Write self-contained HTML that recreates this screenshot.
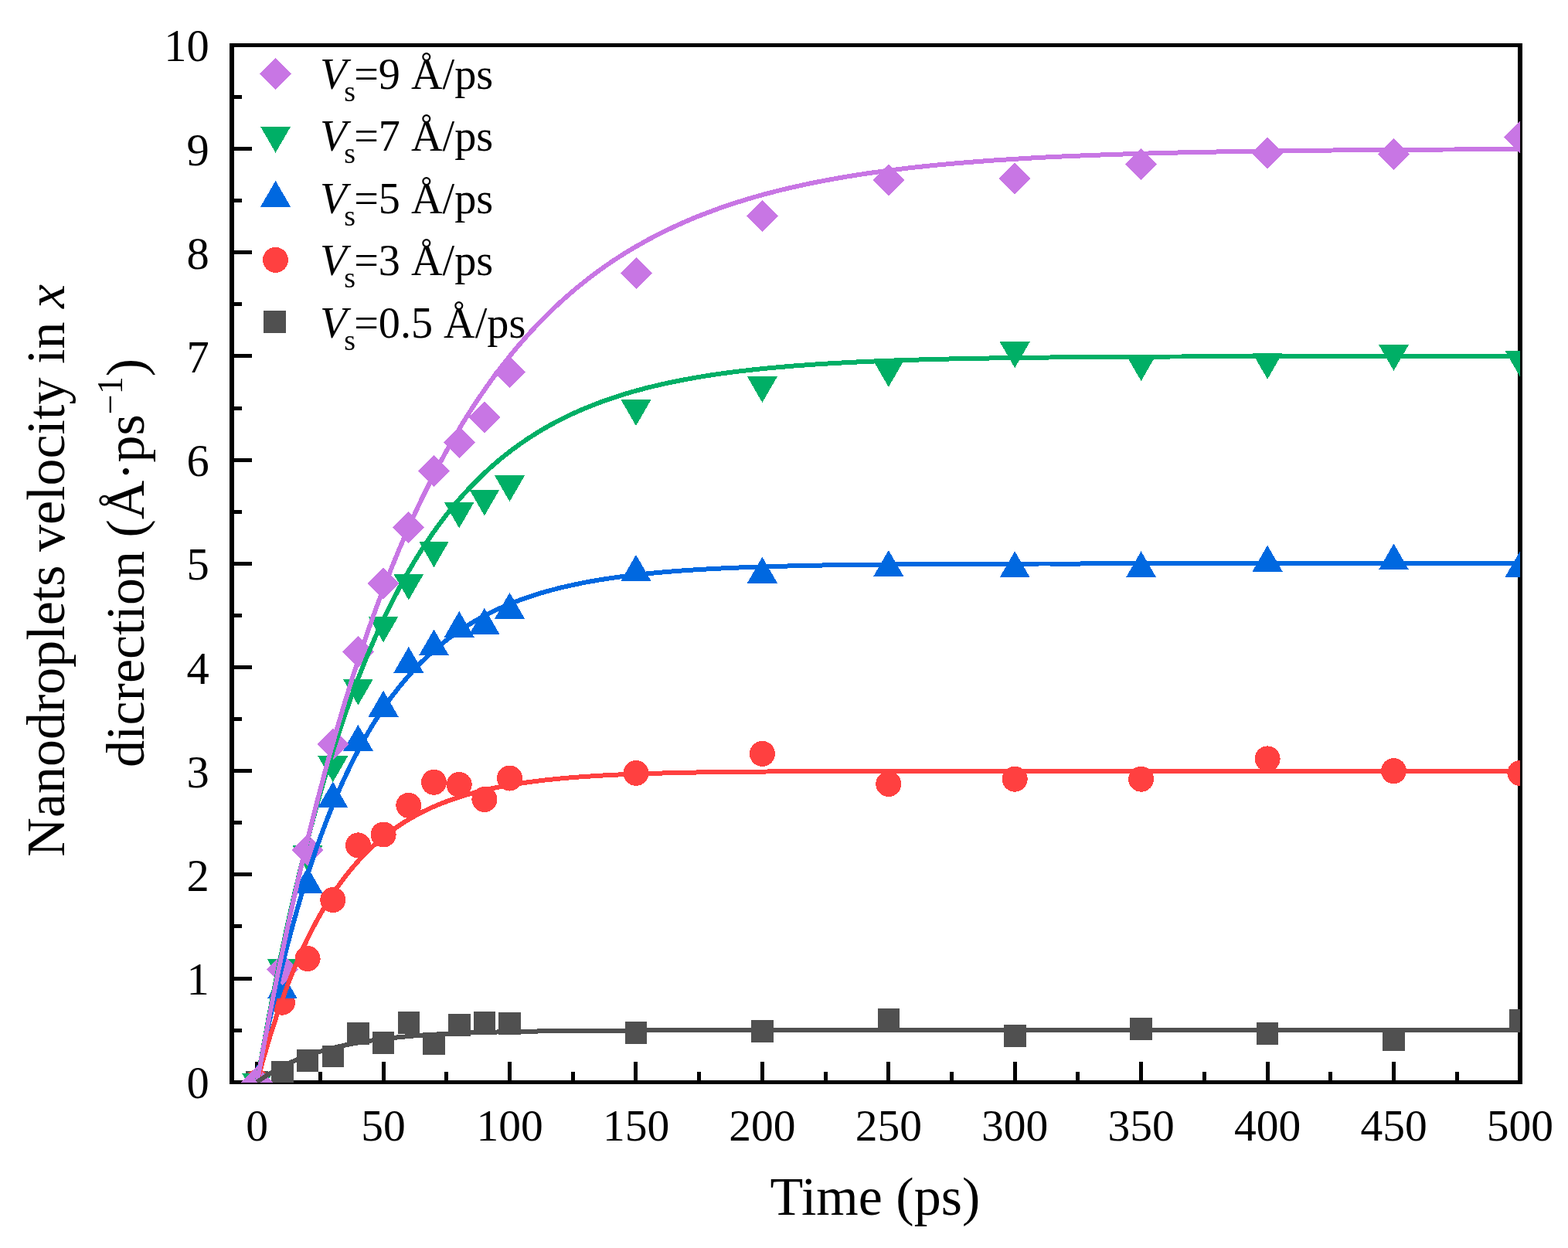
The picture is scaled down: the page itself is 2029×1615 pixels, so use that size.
<!DOCTYPE html><html><head><meta charset="utf-8"><title>Nanodroplets velocity</title>
<style>html,body{margin:0;padding:0;background:#fff;overflow:hidden;}svg{display:block;}text{font-family:"Liberation Serif","Times New Roman",serif;fill:#000;}</style></head><body>
<svg width="2029" height="1615" viewBox="0 0 2029 1615">
<rect width="2029" height="1615" fill="#fff"/>
<defs><clipPath id="pa"><rect x="300" y="58.5" width="1667" height="1342.5"/></clipPath></defs>
<g fill="#000" shape-rendering="crispEdges"><rect x="330" y="1374" width="5" height="29"/><rect x="494" y="1374" width="5" height="29"/><rect x="657" y="1374" width="5" height="29"/><rect x="820" y="1374" width="5" height="29"/><rect x="984" y="1374" width="5" height="29"/><rect x="1147" y="1374" width="5" height="29"/><rect x="1311" y="1374" width="5" height="29"/><rect x="1474" y="1374" width="5" height="29"/><rect x="1638" y="1374" width="5" height="29"/><rect x="1801" y="1374" width="5" height="29"/><rect x="1964" y="1374" width="5" height="29"/><rect x="412" y="1387" width="5" height="16"/><rect x="575" y="1387" width="5" height="16"/><rect x="739" y="1387" width="5" height="16"/><rect x="902" y="1387" width="5" height="16"/><rect x="1066" y="1387" width="5" height="16"/><rect x="1229" y="1387" width="5" height="16"/><rect x="1392" y="1387" width="5" height="16"/><rect x="1556" y="1387" width="5" height="16"/><rect x="1719" y="1387" width="5" height="16"/><rect x="1883" y="1387" width="5" height="16"/><rect x="297" y="1398" width="29" height="5"/><rect x="297" y="1264" width="29" height="5"/><rect x="297" y="1129" width="29" height="5"/><rect x="297" y="995" width="29" height="5"/><rect x="297" y="861" width="29" height="5"/><rect x="297" y="727" width="29" height="5"/><rect x="297" y="593" width="29" height="5"/><rect x="297" y="458" width="29" height="5"/><rect x="297" y="324" width="29" height="5"/><rect x="297" y="190" width="29" height="5"/><rect x="297" y="56" width="29" height="5"/><rect x="297" y="1331" width="16" height="5"/><rect x="297" y="1196" width="16" height="5"/><rect x="297" y="1062" width="16" height="5"/><rect x="297" y="928" width="16" height="5"/><rect x="297" y="794" width="16" height="5"/><rect x="297" y="660" width="16" height="5"/><rect x="297" y="526" width="16" height="5"/><rect x="297" y="391" width="16" height="5"/><rect x="297" y="257" width="16" height="5"/><rect x="297" y="123" width="16" height="5"/></g>
<g fill="#000" shape-rendering="crispEdges"><rect x="297" y="56" width="1673" height="5"/><rect x="297" y="1398" width="1673" height="5"/><rect x="297" y="56" width="6" height="1347"/><rect x="1964" y="56" width="6" height="1347"/></g>
<g clip-path="url(#pa)" shape-rendering="crispEdges">
<rect x="318.4" y="1386" width="28.6" height="28.6" fill="#505050"/>
<rect x="351.1" y="1372.6" width="28.6" height="28.6" fill="#505050"/>
<rect x="383.8" y="1358.1" width="28.6" height="28.6" fill="#505050"/>
<rect x="416.5" y="1352.7" width="28.6" height="28.6" fill="#505050"/>
<rect x="449.1" y="1323.2" width="28.6" height="28.6" fill="#505050"/>
<rect x="481.8" y="1335.4" width="28.6" height="28.6" fill="#505050"/>
<rect x="514.5" y="1309.2" width="28.6" height="28.6" fill="#505050"/>
<rect x="547.2" y="1335.9" width="28.6" height="28.6" fill="#505050"/>
<rect x="579.9" y="1312.3" width="28.6" height="28.6" fill="#505050"/>
<rect x="612.6" y="1309.4" width="28.6" height="28.6" fill="#505050"/>
<rect x="645.2" y="1310.4" width="28.6" height="28.6" fill="#505050"/>
<rect x="808.7" y="1322" width="28.6" height="28.6" fill="#505050"/>
<rect x="972.1" y="1320" width="28.6" height="28.6" fill="#505050"/>
<rect x="1135.5" y="1304.7" width="28.6" height="28.6" fill="#505050"/>
<rect x="1298.9" y="1326.1" width="28.6" height="28.6" fill="#505050"/>
<rect x="1462.3" y="1317.2" width="28.6" height="28.6" fill="#505050"/>
<rect x="1625.8" y="1323.1" width="28.6" height="28.6" fill="#505050"/>
<rect x="1789.2" y="1331.2" width="28.6" height="28.6" fill="#505050"/>
<rect x="1952.6" y="1305.9" width="28.6" height="28.6" fill="#505050"/>
<circle cx="332.7" cy="1400.3" r="16.5" fill="#FF4040"/>
<circle cx="365.4" cy="1297.2" r="16.5" fill="#FF4040"/>
<circle cx="398.1" cy="1240.6" r="16.5" fill="#FF4040"/>
<circle cx="430.8" cy="1164.5" r="16.5" fill="#FF4040"/>
<circle cx="463.4" cy="1093.9" r="16.5" fill="#FF4040"/>
<circle cx="496.1" cy="1080" r="16.5" fill="#FF4040"/>
<circle cx="528.8" cy="1042.3" r="16.5" fill="#FF4040"/>
<circle cx="561.5" cy="1012.3" r="16.5" fill="#FF4040"/>
<circle cx="594.2" cy="1015.4" r="16.5" fill="#FF4040"/>
<circle cx="626.9" cy="1034.5" r="16.5" fill="#FF4040"/>
<circle cx="659.5" cy="1007" r="16.5" fill="#FF4040"/>
<circle cx="823" cy="1000.4" r="16.5" fill="#FF4040"/>
<circle cx="986.4" cy="975.4" r="16.5" fill="#FF4040"/>
<circle cx="1149.8" cy="1014.5" r="16.5" fill="#FF4040"/>
<circle cx="1313.2" cy="1008.2" r="16.5" fill="#FF4040"/>
<circle cx="1476.6" cy="1008.2" r="16.5" fill="#FF4040"/>
<circle cx="1640.1" cy="981.9" r="16.5" fill="#FF4040"/>
<circle cx="1803.5" cy="997.7" r="16.5" fill="#FF4040"/>
<circle cx="1966.9" cy="1000.4" r="16.5" fill="#FF4040"/>
<path d="M332.7 1377.8L352.2 1411.6L313.2 1411.6Z" fill="#0068E0"/>
<path d="M365.4 1258.6L384.9 1292.4L345.9 1292.4Z" fill="#0068E0"/>
<path d="M398.1 1122.1L417.6 1155.9L378.6 1155.9Z" fill="#0068E0"/>
<path d="M430.8 1011.4L450.3 1045.2L411.3 1045.2Z" fill="#0068E0"/>
<path d="M463.4 937.9L482.9 971.7L443.9 971.7Z" fill="#0068E0"/>
<path d="M496.1 893.7L515.6 927.5L476.6 927.5Z" fill="#0068E0"/>
<path d="M528.8 836.9L548.3 870.7L509.3 870.7Z" fill="#0068E0"/>
<path d="M561.5 814.5L581 848.3L542 848.3Z" fill="#0068E0"/>
<path d="M594.2 790.9L613.7 824.7L574.7 824.7Z" fill="#0068E0"/>
<path d="M626.9 786.7L646.4 820.5L607.4 820.5Z" fill="#0068E0"/>
<path d="M659.5 766.8L679 800.6L640 800.6Z" fill="#0068E0"/>
<path d="M823 717.9L842.5 751.7L803.5 751.7Z" fill="#0068E0"/>
<path d="M986.4 720.7L1005.9 754.5L966.9 754.5Z" fill="#0068E0"/>
<path d="M1149.8 712L1169.3 745.8L1130.3 745.8Z" fill="#0068E0"/>
<path d="M1313.2 713.3L1332.7 747.1L1293.7 747.1Z" fill="#0068E0"/>
<path d="M1476.6 713.3L1496.1 747.1L1457.1 747.1Z" fill="#0068E0"/>
<path d="M1640.1 705.7L1659.6 739.5L1620.6 739.5Z" fill="#0068E0"/>
<path d="M1803.5 703.5L1823 737.3L1784 737.3Z" fill="#0068E0"/>
<path d="M1966.9 713.3L1986.4 747.1L1947.4 747.1Z" fill="#0068E0"/>
<path d="M313.2 1389L352.2 1389L332.7 1422.8Z" fill="#00AF66"/>
<path d="M345.9 1241.4L384.9 1241.4L365.4 1275.2Z" fill="#00AF66"/>
<path d="M378.6 1094.3L417.6 1094.3L398.1 1128.1Z" fill="#00AF66"/>
<path d="M411.3 978.4L450.3 978.4L430.8 1012.2Z" fill="#00AF66"/>
<path d="M443.9 878.8L482.9 878.8L463.4 912.6Z" fill="#00AF66"/>
<path d="M476.6 797.5L515.6 797.5L496.1 831.3Z" fill="#00AF66"/>
<path d="M509.3 742.7L548.3 742.7L528.8 776.5Z" fill="#00AF66"/>
<path d="M542 700.5L581 700.5L561.5 734.3Z" fill="#00AF66"/>
<path d="M574.7 649.7L613.7 649.7L594.2 683.5Z" fill="#00AF66"/>
<path d="M607.4 633.6L646.4 633.6L626.9 667.4Z" fill="#00AF66"/>
<path d="M640 615.4L679 615.4L659.5 649.2Z" fill="#00AF66"/>
<path d="M803.5 517.3L842.5 517.3L823 551.1Z" fill="#00AF66"/>
<path d="M966.9 487.2L1005.9 487.2L986.4 521Z" fill="#00AF66"/>
<path d="M1130.3 467.1L1169.3 467.1L1149.8 500.9Z" fill="#00AF66"/>
<path d="M1293.7 442.4L1332.7 442.4L1313.2 476.2Z" fill="#00AF66"/>
<path d="M1457.1 459.3L1496.1 459.3L1476.6 493.1Z" fill="#00AF66"/>
<path d="M1620.6 456.9L1659.6 456.9L1640.1 490.7Z" fill="#00AF66"/>
<path d="M1784 446.1L1823 446.1L1803.5 479.9Z" fill="#00AF66"/>
<path d="M1947.4 453.7L1986.4 453.7L1966.9 487.5Z" fill="#00AF66"/>
<path d="M332.7 1379.8L353.2 1400.3L332.7 1420.8L312.2 1400.3Z" fill="#C876E4"/>
<path d="M365.4 1234.1L385.9 1254.6L365.4 1275.1L344.9 1254.6Z" fill="#C876E4"/>
<path d="M398.1 1079.9L418.6 1100.4L398.1 1120.9L377.6 1100.4Z" fill="#C876E4"/>
<path d="M430.8 942.3L451.3 962.8L430.8 983.3L410.3 962.8Z" fill="#C876E4"/>
<path d="M463.4 823.4L483.9 843.9L463.4 864.4L442.9 843.9Z" fill="#C876E4"/>
<path d="M496.1 734.7L516.6 755.2L496.1 775.7L475.6 755.2Z" fill="#C876E4"/>
<path d="M528.8 662.2L549.3 682.7L528.8 703.2L508.3 682.7Z" fill="#C876E4"/>
<path d="M561.5 589.2L582 609.7L561.5 630.2L541 609.7Z" fill="#C876E4"/>
<path d="M594.2 552.1L614.7 572.6L594.2 593.1L573.7 572.6Z" fill="#C876E4"/>
<path d="M626.9 519.8L647.4 540.3L626.9 560.8L606.4 540.3Z" fill="#C876E4"/>
<path d="M659.5 460.8L680 481.3L659.5 501.8L639 481.3Z" fill="#C876E4"/>
<path d="M823 333L843.5 353.5L823 374L802.5 353.5Z" fill="#C876E4"/>
<path d="M986.4 258.8L1006.9 279.3L986.4 299.8L965.9 279.3Z" fill="#C876E4"/>
<path d="M1149.8 212.3L1170.3 232.8L1149.8 253.3L1129.3 232.8Z" fill="#C876E4"/>
<path d="M1313.2 210.5L1333.7 231L1313.2 251.5L1292.7 231Z" fill="#C876E4"/>
<path d="M1476.6 192L1497.1 212.5L1476.6 233L1456.1 212.5Z" fill="#C876E4"/>
<path d="M1640.1 177.9L1660.6 198.4L1640.1 218.9L1619.6 198.4Z" fill="#C876E4"/>
<path d="M1803.5 178.8L1824 199.3L1803.5 219.8L1783 199.3Z" fill="#C876E4"/>
<path d="M1966.9 157L1987.4 177.5L1966.9 198L1946.4 177.5Z" fill="#C876E4"/>
<path d="M332.7 1400.3 L336.0 1381.4 L339.2 1363.0 L342.5 1344.8 L345.8 1327.1 L349.0 1309.7 L352.3 1292.7 L355.6 1276.0 L358.8 1259.6 L362.1 1243.5 L365.4 1227.8 L368.7 1212.4 L371.9 1197.3 L375.2 1182.6 L378.5 1168.1 L381.7 1153.9 L385.0 1140.0 L388.3 1126.3 L391.5 1113.0 L394.8 1099.9 L398.1 1087.0 L401.3 1074.5 L404.6 1062.1 L407.9 1050.1 L411.1 1038.2 L414.4 1026.6 L417.7 1015.3 L420.9 1004.2 L424.2 993.2 L427.5 982.6 L430.8 972.1 L434.0 961.8 L437.3 951.8 L440.6 941.9 L443.8 932.2 L447.1 922.8 L450.4 913.5 L453.6 904.4 L456.9 895.5 L460.2 886.8 L463.4 878.2 L466.7 869.9 L470.0 861.6 L473.2 853.6 L476.5 845.7 L479.8 838.0 L483.0 830.4 L486.3 823.0 L489.6 815.7 L492.9 808.6 L496.1 801.6 L499.4 794.8 L502.7 788.1 L505.9 781.5 L509.2 775.1 L512.5 768.8 L515.7 762.6 L519.0 756.5 L522.3 750.6 L525.5 744.8 L528.8 739.1 L532.1 733.5 L535.3 728.0 L538.6 722.6 L541.9 717.4 L545.1 712.2 L548.4 707.2 L551.7 702.2 L555.0 697.4 L558.2 692.6 L561.5 688.0 L564.8 683.4 L568.0 679.0 L571.3 674.6 L574.6 670.3 L577.8 666.1 L581.1 662.0 L584.4 657.9 L587.6 654.0 L590.9 650.1 L594.2 646.3 L597.4 642.6 L600.7 638.9 L604.0 635.4 L607.2 631.9 L610.5 628.4 L613.8 625.1 L617.1 621.8 L620.3 618.5 L623.6 615.4 L626.9 612.3 L630.1 609.2 L633.4 606.2 L636.7 603.3 L639.9 600.5 L643.2 597.7 L646.5 594.9 L649.7 592.2 L653.0 589.6 L656.3 587.0 L659.5 584.5 L662.8 582.0 L666.1 579.6 L669.3 577.2 L672.6 574.8 L675.9 572.6 L679.2 570.3 L682.4 568.1 L685.7 566.0 L689.0 563.9 L692.2 561.8 L695.5 559.8 L698.8 557.8 L702.0 555.8 L705.3 553.9 L708.6 552.1 L711.8 550.2 L715.1 548.4 L718.4 546.7 L721.6 545.0 L724.9 543.3 L728.2 541.6 L731.4 540.0 L734.7 538.4 L738.0 536.8 L741.2 535.3 L744.5 533.8 L747.8 532.4 L751.1 530.9 L754.3 529.5 L757.6 528.1 L760.9 526.8 L764.1 525.5 L767.4 524.2 L770.7 522.9 L773.9 521.7 L777.2 520.4 L780.5 519.2 L783.7 518.1 L787.0 516.9 L790.3 515.8 L793.5 514.7 L796.8 513.6 L800.1 512.6 L803.3 511.5 L806.6 510.5 L809.9 509.5 L813.2 508.5 L816.4 507.6 L819.7 506.6 L823.0 505.7 L836.0 502.2 L849.1 499.0 L862.2 496.0 L875.3 493.3 L888.3 490.8 L901.4 488.4 L914.5 486.3 L927.5 484.3 L940.6 482.5 L953.7 480.8 L966.8 479.3 L979.8 477.8 L992.9 476.5 L1006.0 475.3 L1019.1 474.2 L1032.1 473.1 L1045.2 472.2 L1058.3 471.3 L1071.4 470.5 L1084.4 469.7 L1097.5 469.1 L1110.6 468.4 L1123.7 467.8 L1136.7 467.3 L1149.8 466.8 L1162.9 466.3 L1175.9 465.9 L1189.0 465.5 L1202.1 465.2 L1215.2 464.8 L1228.2 464.5 L1241.3 464.2 L1254.4 464.0 L1267.5 463.7 L1280.5 463.5 L1293.6 463.3 L1306.7 463.1 L1319.8 463.0 L1332.8 462.8 L1345.9 462.6 L1359.0 462.5 L1372.1 462.4 L1385.1 462.3 L1398.2 462.2 L1411.3 462.1 L1424.3 462.0 L1437.4 461.9 L1450.5 461.8 L1463.6 461.7 L1476.6 461.7 L1489.7 461.6 L1502.8 461.6 L1515.9 461.5 L1528.9 461.5 L1542.0 461.4 L1555.1 461.4 L1568.2 461.3 L1581.2 461.3 L1594.3 461.3 L1607.4 461.2 L1620.4 461.2 L1633.5 461.2 L1646.6 461.2 L1659.7 461.1 L1672.7 461.1 L1685.8 461.1 L1698.9 461.1 L1712.0 461.1 L1725.0 461.1 L1738.1 461.1 L1751.2 461.0 L1764.3 461.0 L1777.3 461.0 L1790.4 461.0 L1803.5 461.0 L1816.6 461.0 L1829.6 461.0 L1842.7 461.0 L1855.8 461.0 L1868.8 461.0 L1881.9 461.0 L1895.0 461.0 L1908.1 461.0 L1921.1 460.9 L1934.2 460.9 L1947.3 460.9 L1960.4 460.9 L1973.4 460.9" fill="none" stroke="#00AF66" stroke-width="6" stroke-linejoin="round"/>
<path d="M332.7 1400.3 L336.0 1383.4 L339.2 1366.9 L342.5 1350.9 L345.8 1335.2 L349.0 1319.9 L352.3 1305.1 L355.6 1290.6 L358.8 1276.4 L362.1 1262.6 L365.4 1249.2 L368.7 1236.1 L371.9 1223.4 L375.2 1210.9 L378.5 1198.8 L381.7 1187.0 L385.0 1175.4 L388.3 1164.2 L391.5 1153.2 L394.8 1142.6 L398.1 1132.2 L401.3 1122.0 L404.6 1112.1 L407.9 1102.5 L411.1 1093.1 L414.4 1083.9 L417.7 1075.0 L420.9 1066.3 L424.2 1057.8 L427.5 1049.5 L430.8 1041.4 L434.0 1033.6 L437.3 1025.9 L440.6 1018.4 L443.8 1011.2 L447.1 1004.1 L450.4 997.1 L453.6 990.4 L456.9 983.8 L460.2 977.4 L463.4 971.2 L466.7 965.1 L470.0 959.1 L473.2 953.3 L476.5 947.7 L479.8 942.2 L483.0 936.8 L486.3 931.6 L489.6 926.5 L492.9 921.5 L496.1 916.7 L499.4 912.0 L502.7 907.4 L505.9 902.9 L509.2 898.5 L512.5 894.3 L515.7 890.1 L519.0 886.1 L522.3 882.1 L525.5 878.3 L528.8 874.5 L532.1 870.8 L535.3 867.3 L538.6 863.8 L541.9 860.4 L545.1 857.1 L548.4 853.9 L551.7 850.8 L555.0 847.7 L558.2 844.7 L561.5 841.8 L564.8 839.0 L568.0 836.2 L571.3 833.5 L574.6 830.9 L577.8 828.3 L581.1 825.8 L584.4 823.4 L587.6 821.0 L590.9 818.7 L594.2 816.5 L597.4 814.3 L600.7 812.1 L604.0 810.1 L607.2 808.0 L610.5 806.0 L613.8 804.1 L617.1 802.2 L620.3 800.4 L623.6 798.6 L626.9 796.8 L630.1 795.1 L633.4 793.5 L636.7 791.9 L639.9 790.3 L643.2 788.8 L646.5 787.3 L649.7 785.8 L653.0 784.4 L656.3 783.0 L659.5 781.6 L662.8 780.3 L666.1 779.0 L669.3 777.8 L672.6 776.6 L675.9 775.4 L679.2 774.2 L682.4 773.1 L685.7 772.0 L689.0 770.9 L692.2 769.9 L695.5 768.8 L698.8 767.8 L702.0 766.9 L705.3 765.9 L708.6 765.0 L711.8 764.1 L715.1 763.2 L718.4 762.4 L721.6 761.5 L724.9 760.7 L728.2 759.9 L731.4 759.2 L734.7 758.4 L738.0 757.7 L741.2 757.0 L744.5 756.3 L747.8 755.6 L751.1 754.9 L754.3 754.3 L757.6 753.6 L760.9 753.0 L764.1 752.4 L767.4 751.9 L770.7 751.3 L773.9 750.7 L777.2 750.2 L780.5 749.7 L783.7 749.2 L787.0 748.7 L790.3 748.2 L793.5 747.7 L796.8 747.2 L800.1 746.8 L803.3 746.3 L806.6 745.9 L809.9 745.5 L813.2 745.1 L816.4 744.7 L819.7 744.3 L823.0 743.9 L836.0 742.5 L849.1 741.2 L862.2 740.1 L875.3 739.0 L888.3 738.1 L901.4 737.2 L914.5 736.5 L927.5 735.8 L940.6 735.1 L953.7 734.6 L966.8 734.1 L979.8 733.6 L992.9 733.2 L1006.0 732.8 L1019.1 732.5 L1032.1 732.2 L1045.2 731.9 L1058.3 731.6 L1071.4 731.4 L1084.4 731.2 L1097.5 731.0 L1110.6 730.8 L1123.7 730.7 L1136.7 730.6 L1149.8 730.4 L1162.9 730.3 L1175.9 730.2 L1189.0 730.1 L1202.1 730.1 L1215.2 730.0 L1228.2 729.9 L1241.3 729.9 L1254.4 729.8 L1267.5 729.8 L1280.5 729.7 L1293.6 729.7 L1306.7 729.6 L1319.8 729.6 L1332.8 729.6 L1345.9 729.5 L1359.0 729.5 L1372.1 729.5 L1385.1 729.5 L1398.2 729.5 L1411.3 729.4 L1424.3 729.4 L1437.4 729.4 L1450.5 729.4 L1463.6 729.4 L1476.6 729.4 L1489.7 729.4 L1502.8 729.4 L1515.9 729.4 L1528.9 729.4 L1542.0 729.4 L1555.1 729.3 L1568.2 729.3 L1581.2 729.3 L1594.3 729.3 L1607.4 729.3 L1620.4 729.3 L1633.5 729.3 L1646.6 729.3 L1659.7 729.3 L1672.7 729.3 L1685.8 729.3 L1698.9 729.3 L1712.0 729.3 L1725.0 729.3 L1738.1 729.3 L1751.2 729.3 L1764.3 729.3 L1777.3 729.3 L1790.4 729.3 L1803.5 729.3 L1816.6 729.3 L1829.6 729.3 L1842.7 729.3 L1855.8 729.3 L1868.8 729.3 L1881.9 729.3 L1895.0 729.3 L1908.1 729.3 L1921.1 729.3 L1934.2 729.3 L1947.3 729.3 L1960.4 729.3 L1973.4 729.3" fill="none" stroke="#0068E0" stroke-width="6" stroke-linejoin="round"/>
<path d="M332.7 1400.3 L336.0 1388.0 L339.2 1376.1 L342.5 1364.6 L345.8 1353.4 L349.0 1342.6 L352.3 1332.0 L355.6 1321.9 L358.8 1312.0 L362.1 1302.4 L365.4 1293.1 L368.7 1284.1 L371.9 1275.4 L375.2 1266.9 L378.5 1258.7 L381.7 1250.7 L385.0 1243.0 L388.3 1235.5 L391.5 1228.3 L394.8 1221.3 L398.1 1214.5 L401.3 1207.8 L404.6 1201.4 L407.9 1195.2 L411.1 1189.2 L414.4 1183.4 L417.7 1177.7 L420.9 1172.2 L424.2 1166.9 L427.5 1161.7 L430.8 1156.7 L434.0 1151.9 L437.3 1147.2 L440.6 1142.6 L443.8 1138.2 L447.1 1133.9 L450.4 1129.8 L453.6 1125.8 L456.9 1121.8 L460.2 1118.1 L463.4 1114.4 L466.7 1110.8 L470.0 1107.4 L473.2 1104.0 L476.5 1100.8 L479.8 1097.7 L483.0 1094.6 L486.3 1091.7 L489.6 1088.8 L492.9 1086.0 L496.1 1083.3 L499.4 1080.7 L502.7 1078.2 L505.9 1075.7 L509.2 1073.3 L512.5 1071.0 L515.7 1068.8 L519.0 1066.6 L522.3 1064.5 L525.5 1062.5 L528.8 1060.5 L532.1 1058.6 L535.3 1056.8 L538.6 1055.0 L541.9 1053.2 L545.1 1051.5 L548.4 1049.9 L551.7 1048.3 L555.0 1046.7 L558.2 1045.2 L561.5 1043.8 L564.8 1042.4 L568.0 1041.0 L571.3 1039.7 L574.6 1038.4 L577.8 1037.2 L581.1 1036.0 L584.4 1034.8 L587.6 1033.7 L590.9 1032.6 L594.2 1031.5 L597.4 1030.5 L600.7 1029.5 L604.0 1028.5 L607.2 1027.6 L610.5 1026.7 L613.8 1025.8 L617.1 1024.9 L620.3 1024.1 L623.6 1023.3 L626.9 1022.5 L630.1 1021.8 L633.4 1021.0 L636.7 1020.3 L639.9 1019.6 L643.2 1019.0 L646.5 1018.3 L649.7 1017.7 L653.0 1017.1 L656.3 1016.5 L659.5 1015.9 L662.8 1015.4 L666.1 1014.8 L669.3 1014.3 L672.6 1013.8 L675.9 1013.3 L679.2 1012.8 L682.4 1012.4 L685.7 1011.9 L689.0 1011.5 L692.2 1011.1 L695.5 1010.7 L698.8 1010.3 L702.0 1009.9 L705.3 1009.5 L708.6 1009.1 L711.8 1008.8 L715.1 1008.5 L718.4 1008.1 L721.6 1007.8 L724.9 1007.5 L728.2 1007.2 L731.4 1006.9 L734.7 1006.6 L738.0 1006.4 L741.2 1006.1 L744.5 1005.8 L747.8 1005.6 L751.1 1005.4 L754.3 1005.1 L757.6 1004.9 L760.9 1004.7 L764.1 1004.5 L767.4 1004.3 L770.7 1004.1 L773.9 1003.9 L777.2 1003.7 L780.5 1003.5 L783.7 1003.3 L787.0 1003.1 L790.3 1003.0 L793.5 1002.8 L796.8 1002.7 L800.1 1002.5 L803.3 1002.4 L806.6 1002.2 L809.9 1002.1 L813.2 1001.9 L816.4 1001.8 L819.7 1001.7 L823.0 1001.6 L836.0 1001.1 L849.1 1000.7 L862.2 1000.4 L875.3 1000.1 L888.3 999.8 L901.4 999.5 L914.5 999.3 L927.5 999.1 L940.6 999.0 L953.7 998.8 L966.8 998.7 L979.8 998.6 L992.9 998.5 L1006.0 998.4 L1019.1 998.3 L1032.1 998.2 L1045.2 998.2 L1058.3 998.1 L1071.4 998.1 L1084.4 998.0 L1097.5 998.0 L1110.6 998.0 L1123.7 997.9 L1136.7 997.9 L1149.8 997.9 L1162.9 997.9 L1175.9 997.8 L1189.0 997.8 L1202.1 997.8 L1215.2 997.8 L1228.2 997.8 L1241.3 997.8 L1254.4 997.8 L1267.5 997.8 L1280.5 997.8 L1293.6 997.7 L1306.7 997.7 L1319.8 997.7 L1332.8 997.7 L1345.9 997.7 L1359.0 997.7 L1372.1 997.7 L1385.1 997.7 L1398.2 997.7 L1411.3 997.7 L1424.3 997.7 L1437.4 997.7 L1450.5 997.7 L1463.6 997.7 L1476.6 997.7 L1489.7 997.7 L1502.8 997.7 L1515.9 997.7 L1528.9 997.7 L1542.0 997.7 L1555.1 997.7 L1568.2 997.7 L1581.2 997.7 L1594.3 997.7 L1607.4 997.7 L1620.4 997.7 L1633.5 997.7 L1646.6 997.7 L1659.7 997.7 L1672.7 997.7 L1685.8 997.7 L1698.9 997.7 L1712.0 997.7 L1725.0 997.7 L1738.1 997.7 L1751.2 997.7 L1764.3 997.7 L1777.3 997.7 L1790.4 997.7 L1803.5 997.7 L1816.6 997.7 L1829.6 997.7 L1842.7 997.7 L1855.8 997.7 L1868.8 997.7 L1881.9 997.7 L1895.0 997.7 L1908.1 997.7 L1921.1 997.7 L1934.2 997.7 L1947.3 997.7 L1960.4 997.7 L1973.4 997.7" fill="none" stroke="#FF4040" stroke-width="6" stroke-linejoin="round"/>
<path d="M332.7 1400.3 L336.0 1382.3 L339.2 1364.5 L342.5 1347.0 L345.8 1329.8 L349.0 1312.8 L352.3 1296.1 L355.6 1279.6 L358.8 1263.4 L362.1 1247.4 L365.4 1231.7 L368.7 1216.2 L371.9 1200.9 L375.2 1185.8 L378.5 1171.0 L381.7 1156.4 L385.0 1142.0 L388.3 1127.8 L391.5 1113.9 L394.8 1100.1 L398.1 1086.6 L401.3 1073.2 L404.6 1060.1 L407.9 1047.1 L411.1 1034.4 L414.4 1021.8 L417.7 1009.5 L420.9 997.3 L424.2 985.2 L427.5 973.4 L430.8 961.8 L434.0 950.3 L437.3 939.0 L440.6 927.8 L443.8 916.9 L447.1 906.0 L450.4 895.4 L453.6 884.9 L456.9 874.6 L460.2 864.4 L463.4 854.4 L466.7 844.5 L470.0 834.7 L473.2 825.2 L476.5 815.7 L479.8 806.4 L483.0 797.3 L486.3 788.2 L489.6 779.3 L492.9 770.6 L496.1 762.0 L499.4 753.5 L502.7 745.1 L505.9 736.8 L509.2 728.7 L512.5 720.7 L515.7 712.8 L519.0 705.1 L522.3 697.4 L525.5 689.9 L528.8 682.4 L532.1 675.1 L535.3 667.9 L538.6 660.8 L541.9 653.8 L545.1 647.0 L548.4 640.2 L551.7 633.5 L555.0 626.9 L558.2 620.4 L561.5 614.0 L564.8 607.8 L568.0 601.6 L571.3 595.4 L574.6 589.4 L577.8 583.5 L581.1 577.7 L584.4 571.9 L587.6 566.3 L590.9 560.7 L594.2 555.2 L597.4 549.8 L600.7 544.4 L604.0 539.2 L607.2 534.0 L610.5 528.9 L613.8 523.9 L617.1 519.0 L620.3 514.1 L623.6 509.3 L626.9 504.6 L630.1 499.9 L633.4 495.3 L636.7 490.8 L639.9 486.3 L643.2 482.0 L646.5 477.6 L649.7 473.4 L653.0 469.2 L656.3 465.1 L659.5 461.0 L662.8 457.0 L666.1 453.0 L669.3 449.1 L672.6 445.3 L675.9 441.5 L679.2 437.8 L682.4 434.2 L685.7 430.6 L689.0 427.0 L692.2 423.5 L695.5 420.1 L698.8 416.7 L702.0 413.3 L705.3 410.0 L708.6 406.8 L711.8 403.6 L715.1 400.4 L718.4 397.3 L721.6 394.3 L724.9 391.2 L728.2 388.3 L731.4 385.4 L734.7 382.5 L738.0 379.6 L741.2 376.9 L744.5 374.1 L747.8 371.4 L751.1 368.7 L754.3 366.1 L757.6 363.5 L760.9 360.9 L764.1 358.4 L767.4 356.0 L770.7 353.5 L773.9 351.1 L777.2 348.7 L780.5 346.4 L783.7 344.1 L787.0 341.9 L790.3 339.6 L793.5 337.4 L796.8 335.3 L800.1 333.1 L803.3 331.0 L806.6 329.0 L809.9 326.9 L813.2 324.9 L816.4 323.0 L819.7 321.0 L823.0 319.1 L836.0 311.7 L849.1 304.7 L862.2 298.2 L875.3 292.0 L888.3 286.2 L901.4 280.7 L914.5 275.6 L927.5 270.7 L940.6 266.2 L953.7 261.9 L966.8 257.8 L979.8 254.0 L992.9 250.4 L1006.0 247.0 L1019.1 243.8 L1032.1 240.9 L1045.2 238.0 L1058.3 235.4 L1071.4 232.9 L1084.4 230.5 L1097.5 228.3 L1110.6 226.2 L1123.7 224.2 L1136.7 222.4 L1149.8 220.6 L1162.9 219.0 L1175.9 217.4 L1189.0 216.0 L1202.1 214.6 L1215.2 213.3 L1228.2 212.1 L1241.3 211.0 L1254.4 209.9 L1267.5 208.9 L1280.5 207.9 L1293.6 207.0 L1306.7 206.2 L1319.8 205.4 L1332.8 204.6 L1345.9 203.9 L1359.0 203.2 L1372.1 202.6 L1385.1 202.0 L1398.2 201.5 L1411.3 200.9 L1424.3 200.5 L1437.4 200.0 L1450.5 199.6 L1463.6 199.1 L1476.6 198.8 L1489.7 198.4 L1502.8 198.0 L1515.9 197.7 L1528.9 197.4 L1542.0 197.1 L1555.1 196.9 L1568.2 196.6 L1581.2 196.4 L1594.3 196.1 L1607.4 195.9 L1620.4 195.7 L1633.5 195.5 L1646.6 195.4 L1659.7 195.2 L1672.7 195.0 L1685.8 194.9 L1698.9 194.7 L1712.0 194.6 L1725.0 194.5 L1738.1 194.4 L1751.2 194.3 L1764.3 194.2 L1777.3 194.1 L1790.4 194.0 L1803.5 193.9 L1816.6 193.8 L1829.6 193.7 L1842.7 193.7 L1855.8 193.6 L1868.8 193.5 L1881.9 193.5 L1895.0 193.4 L1908.1 193.4 L1921.1 193.3 L1934.2 193.3 L1947.3 193.2 L1960.4 193.2 L1973.4 193.1" fill="none" stroke="#C876E4" stroke-width="6" stroke-linejoin="round"/>
<path d="M332.7 1400.3 L336.0 1397.9 L339.2 1395.7 L342.5 1393.5 L345.8 1391.4 L349.0 1389.3 L352.3 1387.4 L355.6 1385.5 L358.8 1383.6 L362.1 1381.9 L365.4 1380.1 L368.7 1378.5 L371.9 1376.9 L375.2 1375.4 L378.5 1373.9 L381.7 1372.5 L385.0 1371.1 L388.3 1369.8 L391.5 1368.5 L394.8 1367.2 L398.1 1366.0 L401.3 1364.9 L404.6 1363.8 L407.9 1362.7 L411.1 1361.7 L414.4 1360.7 L417.7 1359.7 L420.9 1358.8 L424.2 1357.9 L427.5 1357.0 L430.8 1356.2 L434.0 1355.4 L437.3 1354.6 L440.6 1353.8 L443.8 1353.1 L447.1 1352.4 L450.4 1351.7 L453.6 1351.1 L456.9 1350.5 L460.2 1349.9 L463.4 1349.3 L466.7 1348.7 L470.0 1348.2 L473.2 1347.6 L476.5 1347.1 L479.8 1346.7 L483.0 1346.2 L486.3 1345.7 L489.6 1345.3 L492.9 1344.9 L496.1 1344.5 L499.4 1344.1 L502.7 1343.7 L505.9 1343.3 L509.2 1343.0 L512.5 1342.6 L515.7 1342.3 L519.0 1342.0 L522.3 1341.7 L525.5 1341.4 L528.8 1341.1 L532.1 1340.8 L535.3 1340.5 L538.6 1340.3 L541.9 1340.0 L545.1 1339.8 L548.4 1339.6 L551.7 1339.3 L555.0 1339.1 L558.2 1338.9 L561.5 1338.7 L564.8 1338.5 L568.0 1338.3 L571.3 1338.1 L574.6 1338.0 L577.8 1337.8 L581.1 1337.6 L584.4 1337.5 L587.6 1337.3 L590.9 1337.2 L594.2 1337.1 L597.4 1336.9 L600.7 1336.8 L604.0 1336.7 L607.2 1336.5 L610.5 1336.4 L613.8 1336.3 L617.1 1336.2 L620.3 1336.1 L623.6 1336.0 L626.9 1335.9 L630.1 1335.8 L633.4 1335.7 L636.7 1335.6 L639.9 1335.5 L643.2 1335.5 L646.5 1335.4 L649.7 1335.3 L653.0 1335.2 L656.3 1335.2 L659.5 1335.1 L662.8 1335.0 L666.1 1335.0 L669.3 1334.9 L672.6 1334.8 L675.9 1334.8 L679.2 1334.7 L682.4 1334.7 L685.7 1334.6 L689.0 1334.6 L692.2 1334.5 L695.5 1334.5 L698.8 1334.4 L702.0 1334.4 L705.3 1334.3 L708.6 1334.3 L711.8 1334.3 L715.1 1334.2 L718.4 1334.2 L721.6 1334.2 L724.9 1334.1 L728.2 1334.1 L731.4 1334.1 L734.7 1334.0 L738.0 1334.0 L741.2 1334.0 L744.5 1333.9 L747.8 1333.9 L751.1 1333.9 L754.3 1333.9 L757.6 1333.8 L760.9 1333.8 L764.1 1333.8 L767.4 1333.8 L770.7 1333.8 L773.9 1333.7 L777.2 1333.7 L780.5 1333.7 L783.7 1333.7 L787.0 1333.7 L790.3 1333.7 L793.5 1333.6 L796.8 1333.6 L800.1 1333.6 L803.3 1333.6 L806.6 1333.6 L809.9 1333.6 L813.2 1333.6 L816.4 1333.5 L819.7 1333.5 L823.0 1333.5 L836.0 1333.5 L849.1 1333.4 L862.2 1333.4 L875.3 1333.4 L888.3 1333.4 L901.4 1333.3 L914.5 1333.3 L927.5 1333.3 L940.6 1333.3 L953.7 1333.3 L966.8 1333.3 L979.8 1333.3 L992.9 1333.2 L1006.0 1333.2 L1019.1 1333.2 L1032.1 1333.2 L1045.2 1333.2 L1058.3 1333.2 L1071.4 1333.2 L1084.4 1333.2 L1097.5 1333.2 L1110.6 1333.2 L1123.7 1333.2 L1136.7 1333.2 L1149.8 1333.2 L1162.9 1333.2 L1175.9 1333.2 L1189.0 1333.2 L1202.1 1333.2 L1215.2 1333.2 L1228.2 1333.2 L1241.3 1333.2 L1254.4 1333.2 L1267.5 1333.2 L1280.5 1333.2 L1293.6 1333.2 L1306.7 1333.2 L1319.8 1333.2 L1332.8 1333.2 L1345.9 1333.2 L1359.0 1333.2 L1372.1 1333.2 L1385.1 1333.2 L1398.2 1333.2 L1411.3 1333.2 L1424.3 1333.2 L1437.4 1333.2 L1450.5 1333.2 L1463.6 1333.2 L1476.6 1333.2 L1489.7 1333.2 L1502.8 1333.2 L1515.9 1333.2 L1528.9 1333.2 L1542.0 1333.2 L1555.1 1333.2 L1568.2 1333.2 L1581.2 1333.2 L1594.3 1333.2 L1607.4 1333.2 L1620.4 1333.2 L1633.5 1333.2 L1646.6 1333.2 L1659.7 1333.2 L1672.7 1333.2 L1685.8 1333.2 L1698.9 1333.2 L1712.0 1333.2 L1725.0 1333.2 L1738.1 1333.2 L1751.2 1333.2 L1764.3 1333.2 L1777.3 1333.2 L1790.4 1333.2 L1803.5 1333.2 L1816.6 1333.2 L1829.6 1333.2 L1842.7 1333.2 L1855.8 1333.2 L1868.8 1333.2 L1881.9 1333.2 L1895.0 1333.2 L1908.1 1333.2 L1921.1 1333.2 L1934.2 1333.2 L1947.3 1333.2 L1960.4 1333.2 L1973.4 1333.2" fill="none" stroke="#505050" stroke-width="6" stroke-linejoin="round"/>
</g>
<g font-size="57.5"><text x="270.7" y="1421.3" text-anchor="end" font-size="58.5">0</text><text x="270.7" y="1287.1" text-anchor="end" font-size="58.5">1</text><text x="270.7" y="1152.9" text-anchor="end" font-size="58.5">2</text><text x="270.7" y="1018.7" text-anchor="end" font-size="58.5">3</text><text x="270.7" y="884.5" text-anchor="end" font-size="58.5">4</text><text x="270.7" y="750.3" text-anchor="end" font-size="58.5">5</text><text x="270.7" y="616.1" text-anchor="end" font-size="58.5">6</text><text x="270.7" y="481.9" text-anchor="end" font-size="58.5">7</text><text x="270.7" y="347.7" text-anchor="end" font-size="58.5">8</text><text x="270.7" y="213.5" text-anchor="end" font-size="58.5">9</text><text x="270.7" y="79.3" text-anchor="end" font-size="58.5">10</text><text x="332.7" y="1475.8" text-anchor="middle">0</text><text x="496.1" y="1475.8" text-anchor="middle">50</text><text x="659.5" y="1475.8" text-anchor="middle">100</text><text x="823.0" y="1475.8" text-anchor="middle">150</text><text x="986.4" y="1475.8" text-anchor="middle">200</text><text x="1149.8" y="1475.8" text-anchor="middle">250</text><text x="1313.2" y="1475.8" text-anchor="middle">300</text><text x="1476.6" y="1475.8" text-anchor="middle">350</text><text x="1640.1" y="1475.8" text-anchor="middle">400</text><text x="1803.5" y="1475.8" text-anchor="middle">450</text><text x="1966.9" y="1475.8" text-anchor="middle">500</text></g>
<text x="1132.4" y="1572.2" font-size="70" text-anchor="middle">Time (ps)</text>
<g transform="translate(82.5,738.3) rotate(-90)"><text x="0" y="0" font-size="70" text-anchor="middle">Nanodroplets velocity in <tspan font-style="italic">x</tspan></text></g>
<g transform="translate(185.5,728.4) rotate(-90)"><text x="0" y="0" font-size="70" text-anchor="middle">dicrection (Å·ps<tspan font-size="46" dy="-28">−1</tspan><tspan dy="28">)</tspan></text></g>
<g shape-rendering="crispEdges"><path d="M356.4 75L376.9 95.5L356.4 116L335.9 95.5Z" fill="#C876E4"/></g>
<text x="414" y="114.7" font-size="57"><tspan font-style="italic">V</tspan><tspan font-size="38" dx="-3.5" dy="16">s</tspan><tspan font-size="56.2" dx="-2" dy="-16">=9 Å/ps</tspan></text>
<g shape-rendering="crispEdges"><path d="M337.1 163.9L376.1 163.9L356.6 197.7Z" fill="#00AF66"/></g>
<text x="414" y="195.2" font-size="57"><tspan font-style="italic">V</tspan><tspan font-size="38" dx="-3.5" dy="16">s</tspan><tspan font-size="56.2" dx="-2" dy="-16">=7 Å/ps</tspan></text>
<g shape-rendering="crispEdges"><path d="M356.6 233.8L376.1 267.6L337.1 267.6Z" fill="#0068E0"/></g>
<text x="414" y="275.7" font-size="57"><tspan font-style="italic">V</tspan><tspan font-size="38" dx="-3.5" dy="16">s</tspan><tspan font-size="56.2" dx="-2" dy="-16">=5 Å/ps</tspan></text>
<g shape-rendering="crispEdges"><circle cx="356.5" cy="336.4" r="16.5" fill="#FF4040"/></g>
<text x="414" y="356.2" font-size="57"><tspan font-style="italic">V</tspan><tspan font-size="38" dx="-3.5" dy="16">s</tspan><tspan font-size="56.2" dx="-2" dy="-16">=3 Å/ps</tspan></text>
<g shape-rendering="crispEdges"><rect x="341.1" y="402.1" width="28.6" height="28.6" fill="#505050"/></g>
<text x="414" y="436.7" font-size="57"><tspan font-style="italic">V</tspan><tspan font-size="38" dx="-3.5" dy="16">s</tspan><tspan font-size="56.2" dx="-2" dy="-16">=0.5 Å/ps</tspan></text>
</svg></body></html>
